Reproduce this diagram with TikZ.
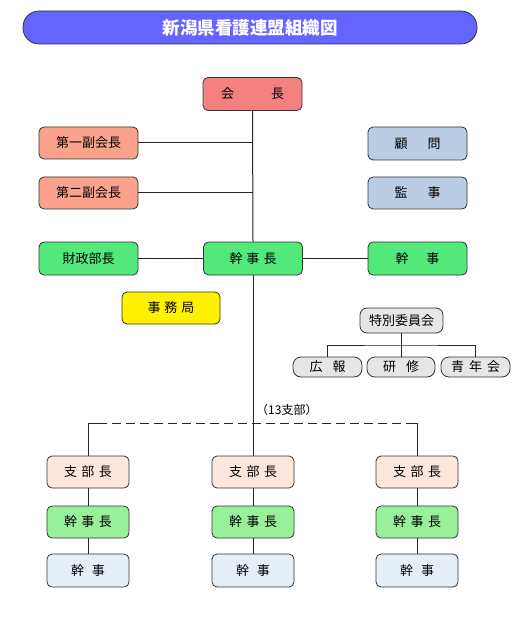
\documentclass[tikz,border=0pt]{standalone}
\usepackage{fontspec}
\setmainfont{Noto Sans CJK JP}
\usetikzlibrary{calc}
\begin{document}
\begin{tikzpicture}[x=1pt,y=-1pt,
  box/.style={draw=black!80, line width=0.8pt, rounded corners=5pt, inner sep=0pt,
     minimum width=99pt, minimum height=33pt, font=\fontsize{13}{13}\selectfont},
  small/.style={box, minimum width=82pt, minimum height=32pt},
  pill/.style={box, rounded corners=8pt, minimum width=69pt, minimum height=20pt},
  conn/.style={line width=1pt, black!85}]
\useasboundingbox (0,0) rectangle (530,617);
\definecolor{titleblue}{HTML}{6464FF}
\definecolor{red1}{HTML}{F48080}
\definecolor{salmon1}{HTML}{FAA28C}
\definecolor{steel1}{HTML}{B9CDE5}
\definecolor{green1}{HTML}{52E87A}
\definecolor{gray1}{HTML}{E6E6E6}
\definecolor{pink1}{HTML}{FDE6DC}
\definecolor{green2}{HTML}{98F09A}
\definecolor{blue2}{HTML}{E6EEF8}

\node[draw=black!80, line width=0.8pt, fill=titleblue, rounded corners=16pt,
  minimum width=454pt, minimum height=33pt, text=white,
  font=\fontsize{17.5}{17.5}\selectfont\bfseries] (title) at (250,27.5) {新潟県看護連盟組織図};

\node[box, fill=red1] (kaicho) at (252.5,94) {会\hspace{37pt}長};
\node[box, fill=salmon1, minimum height=32pt] (fuku1) at (88.5,143) {第一副会長};
\node[box, fill=salmon1, minimum height=32pt] (fuku2) at (88.5,193) {第二副会長};
\node[box, fill=steel1] (komon) at (417.5,143.5) {顧\hspace{20pt}問};
\node[box, fill=steel1, minimum height=32pt] (kanji0) at (417.5,193) {監\hspace{20pt}事};

\node[box, fill=green1] (zaisei) at (88.5,258.5) {財政部長};
\node[box, fill=green1] (kanjicho) at (253,258.5) {幹\hspace{4pt}事\hspace{4pt}長};
\node[box, fill=green1] (kanji) at (417.5,258.5) {幹\hspace{18pt}事};

\node[box, fill=yellow, minimum width=98pt, minimum height=32pt] (jimu) at (171,308) {事\hspace{4pt}務\hspace{4pt}局};

\node[box, fill=gray1, rounded corners=7pt, minimum width=83pt, minimum height=25pt] (tokubetsu) at (401.5,320.5) {特別委員会};
\node[pill, fill=gray1] (koho) at (327.5,367) {広\hspace{10pt}報};
\node[pill, fill=gray1, minimum width=68pt] (kenshu) at (401,367) {研\hspace{10pt}修};
\node[pill, fill=gray1] (seinen) at (475.5,367) {青\hspace{5pt}年\hspace{5pt}会};

\foreach \i/\x in {1/88,2/253,3/417}{
  \node[small, fill=pink1] (shibu\i) at (\x,472) {支\hspace{4.5pt}部\hspace{4.5pt}長};
  \node[small, fill=green2] (skc\i) at (\x,522) {幹\hspace{4.5pt}事\hspace{4.5pt}長};
  \node[small, fill=blue2, minimum height=33pt] (sk\i) at (\x,570.5) {幹\hspace{8pt}事};
  \draw[conn] (shibu\i) -- (skc\i);
  \draw[conn] (skc\i) -- (sk\i);
}

% main trunk
\draw[conn] (kaicho.south) -- (kanjicho.north);
\draw[conn] (kanjicho.south) -- (shibu2.north);
\draw[conn] (fuku1.east) -- (fuku1.east -| kaicho.south);
\draw[conn] (fuku2.east) -- (fuku2.east -| kaicho.south);
\draw[conn] (zaisei) -- (kanjicho);
\draw[conn] (kanjicho) -- (kanji);

% special committee
\coordinate (tj) at (401.5,345);
\draw[conn] (tokubetsu.south) -- (tj);
\draw[conn] (koho.north) |- (tj) -| (seinen.north);
\draw[conn] (tj) -- (kenshu.north -| tj);

% branches
\coordinate (dl) at (88,423);
\coordinate (dr) at (417,423);
\draw[conn] (shibu1.north) -- (dl) -- ++(10,0);
\draw[conn] (shibu3.north) -- (dr) -- ++(-10,0);
\draw[conn, dash pattern=on 9pt off 5pt] ($(dl)+(10,0)$) -- ($(dr)+(-10,0)$);
\node[font=\fontsize{12}{12}\selectfont, anchor=west, inner sep=0pt] (lbl) at (256,410) {（13支部）};
\end{tikzpicture}
\end{document}
